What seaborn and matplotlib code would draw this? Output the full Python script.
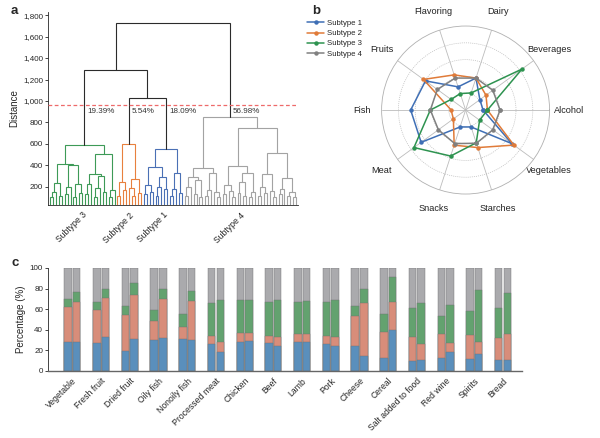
"""Three-panel figure: dendrogram of subtypes, radar of food groups, stacked bars."""
import matplotlib
matplotlib.use("Agg")
from matplotlib import pyplot as plt
from matplotlib.ticker import StrMethodFormatter
import numpy as np
import pandas as pd
import seaborn as sns

sns.set_theme(style="ticks")
plt.rcParams["font.family"] = ["Liberation Sans", "DejaVu Sans"]
plt.rcParams["axes.linewidth"] = 0.6

# --- panel a: dendrogram, node = [height, left, right], leaf = 0 ---
subtype3 = [590,
            [415, [240, [150, [110, 0, 0], 0], [120, 0, 0]],
             [400, [200, [130, 0, 0], 0], [230, [110, 0, 0], [140, 0, 0]]]],
            [510, [320, [230, [130, 0, 0], 0],
                   [300, [190, [110, 0, 0], 0], [150, 0, 0]]],
             [170, [110, 0, 0], 0]]]
subtype2 = [597, [250, [120, 0, 0], [170, 0, 0]],
            [275, [190, 0, [120, 0, 0]], [140, 0, 0]]]
subtype1 = [555, [385, [220, [130, 0, 0], [150, 0, 0]],
                  [290, [200, [120, 0, 0], 0], [180, 0, 0]]],
            [330, [180, [120, 0, 0], 0], [140, 0, 0]]]
gray_left = [375, [290, [200, [120, 0, 0], 0], [260, [130, 0, 0], [110, 0, 0]]],
             [330, [170, [120, 0, 0], 0], [150, 0, [110, 0, 0]]]]
gray_mid = [398, [220, [130, 0, 0], [160, 0, [110, 0, 0]]],
            [330, [250, [140, 0, 0], [120, 0, 0]], [150, [110, 0, 0], 0]]]
gray_right = [519, [320, [200, [120, 0, 0], [140, 0, 0]], [160, 0, [110, 0, 0]]],
              [283, [180, [130, 0, 0], 0], [150, [120, 0, 0], [110, 0, 0]]]]
subtype4 = [850, gray_left, [750, gray_mid, gray_right]]
top_tree = [1730, [1285, "Subtype 3", [1025, "Subtype 2", "Subtype 1"]],
            "Subtype 4"]
clusters = {"Subtype 1": subtype1, "Subtype 2": subtype2,
            "Subtype 3": subtype3, "Subtype 4": subtype4}
cluster_share = {"Subtype 3": "19.39%", "Subtype 2": "5.54%",
                 "Subtype 1": "18.09%", "Subtype 4": "56.98%"}
cut_height = 960

cluster_colors = {"Subtype 1": "#4a70b5", "Subtype 2": "#e8803e",
                  "Subtype 3": "#3d9a57", "Subtype 4": "#a3a3a3"}

# --- panel b: radar ---
food_groups = ["Alcohol", "Beverages", "Dairy", "Flavoring", "Fruits",
               "Fish", "Meat", "Snacks", "Starches", "Vegetables"]
radar_s1 = [1.04, 1.05, 2.0, 1.45, 2.95, 3.27, 3.27, 1.06, 1.06, 3.4]
radar_s2 = [1.3, 1.5, 2.0, 2.2, 3.1, 0.86, 0.9, 2.2, 2.35, 3.55]
radar_s3 = [1.3, 4.15, 1.07, 1.03, 1.07, 2.1, 3.8, 2.88, 2.05, 1.03]
radar_s4 = [2.05, 2.0, 2.0, 2.0, 2.08, 2.1, 2.0, 2.1, 2.08, 2.0]
radar_colors = ["#3f6fb5", "#e07b39", "#2e9350", "#808080"]

# --- panel c: stacked bars (two bars per food) ---
foods = ["Vegetable", "Fresh fruit", "Dried fruit", "Oily fish",
         "Nonoily fish", "Processed meat", "Chicken", "Beef", "Lamb", "Pork",
         "Cheese", "Cereal", "Salt added to food", "Red wine", "Spirits",
         "Bread"]
blue_1 = [28, 27, 19, 30, 31, 26, 28, 27, 28, 26, 24, 12, 9, 12, 11, 10]
orange_1 = [34, 32, 35, 18, 12, 8, 9, 7, 8, 8, 29, 26, 24, 24, 24, 22]
green_1 = [8, 8, 9, 11, 12, 32, 32, 33, 31, 33, 10, 17, 28, 17, 23, 29]
gray_1 = [30, 33, 37, 41, 45, 34, 31, 33, 33, 33, 37, 45, 39, 47, 42, 39]
blue_2 = [28, 33, 31, 32, 30, 18, 29, 24, 28, 24, 14, 40, 10, 18, 16, 10]
orange_2 = [39, 38, 43, 38, 38, 10, 8, 9, 8, 9, 52, 27, 16, 9, 12, 26]
green_2 = [10, 9, 11, 10, 10, 41, 32, 36, 32, 36, 14, 24, 40, 37, 51, 40]
gray_2 = [23, 20, 15, 20, 22, 31, 31, 31, 32, 31, 20, 9, 34, 36, 21, 24]
bar_colors = ["#4a90cc", "#e8836a", "#58ad68", "#a9a9ad"]

TICK = 5.8

fig = plt.figure(figsize=(6.0, 4.38), dpi=100)

# ================= panel a =================
ax_a = fig.add_axes([0.08, 0.532, 0.417, 0.441])
leaf_pos = [0]
roots = {}


def draw_tree(ax, node, color):
    """Draw dendrogram links recursively, return (x, height) of the node."""
    if isinstance(node, str):
        start = leaf_pos[0]
        x, h = draw_tree(ax, clusters[node], cluster_colors[node])
        roots[node] = (x, (start + leaf_pos[0] - 1) / 2)
        return x, h
    if not isinstance(node, list):
        x = leaf_pos[0]
        leaf_pos[0] += 1
        return x, 0
    h, left, right = node
    xl, hl = draw_tree(ax, left, color)
    xr, hr = draw_tree(ax, right, color)
    ax.plot([xl, xl, xr, xr], [hl, h, h, hr], color=color, lw=0.8,
            solid_joinstyle="miter")
    return (xl + xr) / 2, h


draw_tree(ax_a, top_tree, "#2b2b2b")
ax_a.axhline(cut_height, color="#ee6a6a", ls=(0, (3, 2)), lw=0.9, zorder=3)
for name, (x_root, _) in roots.items():
    ax_a.text(x_root + 1.0, 900, cluster_share[name], fontsize=TICK,
              ha="left", va="center", color="#333333")
ax_a.set_xlim(-0.7, leaf_pos[0] - 0.3)
ax_a.set_ylim(32, 1830)
ax_a.set_yticks(np.arange(200, 1801, 200))
ax_a.yaxis.set_major_formatter(StrMethodFormatter("{x:,.0f}"))
order = ["Subtype 3", "Subtype 2", "Subtype 1", "Subtype 4"]
ax_a.set_xticks([roots[n][1] for n in order])
ax_a.set_xticklabels(order, rotation=45, ha="right", rotation_mode="anchor")
ax_a.tick_params(axis="x", length=0, pad=4, labelsize=6.2)
ax_a.tick_params(axis="y", length=2, width=0.6, pad=1.5, labelsize=TICK)
ax_a.set_ylabel("Distance", fontsize=7, labelpad=3)
sns.despine(ax=ax_a)

# ================= panel b =================
ax_b = fig.add_axes([0.636, 0.557, 0.28, 0.3836], projection="polar")
angles = np.linspace(0, 2 * np.pi, len(food_groups), endpoint=False)
for vals, col, lab in zip([radar_s1, radar_s2, radar_s3, radar_s4],
                          radar_colors,
                          ["Subtype 1", "Subtype 2", "Subtype 3", "Subtype 4"]):
    ax_b.plot(np.append(angles, angles[0]), np.append(vals, vals[0]),
              color=col, lw=1.1, marker="o", ms=2.2, label=lab)
ax_b.set_ylim(0, 5)
ax_b.set_yticks([1, 2, 3, 4])
ax_b.set_yticklabels([])
ax_b.set_xticks(angles)
ax_b.set_xticklabels(food_groups, fontsize=6.6, color="#222222")
ax_b.tick_params(axis="x", pad=1)
ax_b.yaxis.grid(True, ls=(0, (1.5, 1.5)), color="#bcbcbc", lw=0.5)
ax_b.xaxis.grid(True, ls="-", color="#bcbcbc", lw=0.6)
ax_b.spines["polar"].set_color("#b0b0b0")
ax_b.spines["polar"].set_linewidth(0.6)
ax_b.legend(loc="upper left", bbox_to_anchor=(0.512, 0.955),
            bbox_transform=fig.transFigure, frameon=False, fontsize=5.6,
            handlelength=2.2, handletextpad=0.4, labelspacing=0.35,
            borderaxespad=0, borderpad=0)

# ================= panel c =================
ax_c = fig.add_axes([0.08, 0.1537, 0.7895, 0.2345])
rows = []
for k, (b, o, g, r) in enumerate([(blue_1, orange_1, green_1, gray_1),
                                  (blue_2, orange_2, green_2, gray_2)]):
    for i, food in enumerate(foods):
        rows.append({"food": food, "bar": k, "blue": b[i], "orange": o[i],
                     "green": g[i], "gray": r[i]})
df = pd.DataFrame(rows)
df["top_blue"] = df["blue"]
df["top_orange"] = df["top_blue"] + df["orange"]
df["top_green"] = df["top_orange"] + df["green"]
df["top_gray"] = df["top_green"] + df["gray"]

for col, color in zip(["top_gray", "top_green", "top_orange", "top_blue"],
                      bar_colors[::-1]):
    sns.barplot(data=df, x="food", y=col, hue="bar", order=foods,
                palette=[color, color], width=0.6, gap=0.13, legend=False,
                edgecolor="#707070", linewidth=0.3, ax=ax_c)
ax_c.set_xlim(-0.85, len(foods) - 0.35)
ax_c.set_ylim(0, 100)
ax_c.set_yticks(np.arange(0, 101, 20))
ax_c.set_xlabel("")
ax_c.set_ylabel("Percentage (%)", fontsize=7, labelpad=3)
ax_c.set_xticks(range(len(foods)))
ax_c.set_xticklabels(foods, rotation=45, ha="right", rotation_mode="anchor")
ax_c.tick_params(axis="x", length=0, pad=4, labelsize=6.2)
ax_c.tick_params(axis="y", length=2, width=0.6, pad=1.5, labelsize=TICK)
sns.despine(ax=ax_c)
ax_c.spines["bottom"].set_color("#666666")
ax_c.spines["bottom"].set_linewidth(1.0)

# panel letters
for letter, x, y in [("a", 0.018, 0.975), ("b", 0.52, 0.975),
                     ("c", 0.02, 0.40)]:
    fig.text(x, y, letter, fontsize=9.5, fontweight="bold", ha="left",
             va="center")

fig.savefig("out.png", dpi=100)
